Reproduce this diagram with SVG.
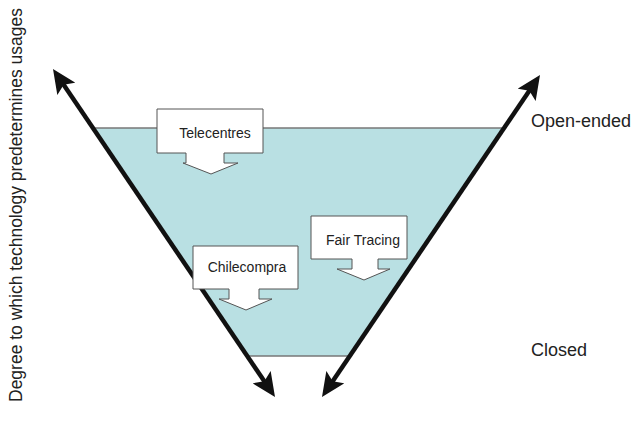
<svg xmlns="http://www.w3.org/2000/svg" width="644" height="429" viewBox="0 0 644 429">
<style>
.lbl{font-family:"Liberation Sans",Arial,sans-serif;fill:#222;}
.big{font-size:18px;}
.small{font-size:14px;text-anchor:middle;}
.edge{stroke:#777;stroke-width:1.5;fill:none;}
.axis{stroke:#111;stroke-width:4.5;fill:none;marker-start:url(#ah);marker-end:url(#ah);}
.callout{fill:#fff;stroke:#555;stroke-width:1;}
</style>
<defs>
<marker id="ah" markerUnits="userSpaceOnUse" viewBox="0 0 24 22" markerWidth="24" markerHeight="22" refX="14" refY="11" orient="auto-start-reverse">
<path d="M0,0 L24,11 L0,22 L5,11 Z" fill="#111"/>
</marker>
</defs>
<g id="funnel">
<polygon points="93,128 504,128 350,356 247,356" fill="#B9E0E3"/>
<line class="edge" x1="93" y1="128" x2="504" y2="128"/>
<line class="edge" x1="247" y1="356" x2="350" y2="356"/>
</g>
<g id="connectors">
<line class="axis" x1="58.6" y1="77.3" x2="269.4" y2="388.7"/>
<line class="axis" x1="534.4" y1="83.3" x2="327.6" y2="388.7"/>
</g>
<g id="telecentres">
<path class="callout" d="M157,109 H263 V153 H224 V163 H238 L211,174 L183,163 H186 V153 H157 Z"/>
<text class="lbl small" x="215" y="138">Telecentres</text>
</g>
<g id="chilecompra">
<path class="callout" d="M193,246 H298 V289 H259 V299 H272 L246,310 L219,299 H229 V289 H193 Z"/>
<text class="lbl small" x="247" y="272">Chilecompra</text>
</g>
<g id="fairtracing">
<path class="callout" d="M311,216 H407 V259 H378 V269 H390 L364,280 L337,269 H352 V259 H311 Z"/>
<text class="lbl small" x="363" y="245">Fair Tracing</text>
</g>
<g id="openended">
<text class="lbl big" x="531" y="127">Open-ended</text>
</g>
<g id="closed">
<text class="lbl big" x="531" y="356">Closed</text>
</g>
<g id="ylabel">
<text class="lbl" font-size="17.5" transform="translate(21.5,402) rotate(-90)">Degree to which technology predetermines usages</text>
</g>
</svg>
